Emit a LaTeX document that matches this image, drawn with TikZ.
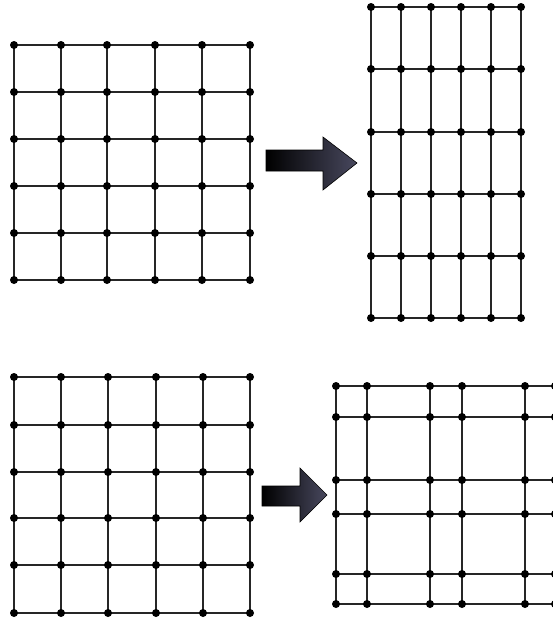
\documentclass[tikz,border=0pt]{standalone}
\definecolor{arrowend}{RGB}{72,72,94}
\begin{document}
\begin{tikzpicture}[x=1pt,y=-1pt,
  dot/.style={circle,fill=black,inner sep=0pt,minimum size=8pt},
  gridline/.style={line width=1.2pt,draw=black!85},
  bigarrow/.style={draw=black,line width=0.6pt,left color=black,right color=arrowend}]
\useasboundingbox (0,0) rectangle (553,621);
\clip (0,0) rectangle (553,621);
% grid A (top left)
\foreach \x [count=\i] in {14,61,107,155,202,250}
  \foreach \y [count=\j] in {45,92,139,186,233,280}
    \coordinate (A-\i-\j) at (\x,\y);
% grid B (top right)
\foreach \x [count=\i] in {371,401,431,461,491,521}
  \foreach \y [count=\j] in {7,69,132,194,256,318}
    \coordinate (B-\i-\j) at (\x,\y);
% grid C (bottom left)
\foreach \x [count=\i] in {14,61,108,156,203,250}
  \foreach \y [count=\j] in {377,425,472,518,565,613}
    \coordinate (C-\i-\j) at (\x,\y);
% grid D (bottom right)
\foreach \x [count=\i] in {336,367,430,462,525,555}
  \foreach \y [count=\j] in {386,417,480,514,574,604}
    \coordinate (D-\i-\j) at (\x,\y);
% lines
\foreach \g in {A,B,C,D}
  \foreach \k in {1,...,6} {
    \draw[gridline] (\g-1-\k) -- (\g-6-\k);
    \draw[gridline] (\g-\k-1) -- (\g-\k-6);
  }
% dots
\foreach \g in {A,B,C,D}
  \foreach \i in {1,...,6}
    \foreach \j in {1,...,6}
      \node[dot] (\g-\i-\j-dot) at (\g-\i-\j) {};
% arrows
\path[bigarrow] (266,150) -- (323,150) -- (323,137) -- (357,163) -- (323,190) -- (323,171) -- (266,171) -- cycle;
\path[bigarrow] (262,486) -- (300,486) -- (300,468) -- (327,495) -- (300,522) -- (300,506) -- (262,506) -- cycle;
\end{tikzpicture}
\end{document}
